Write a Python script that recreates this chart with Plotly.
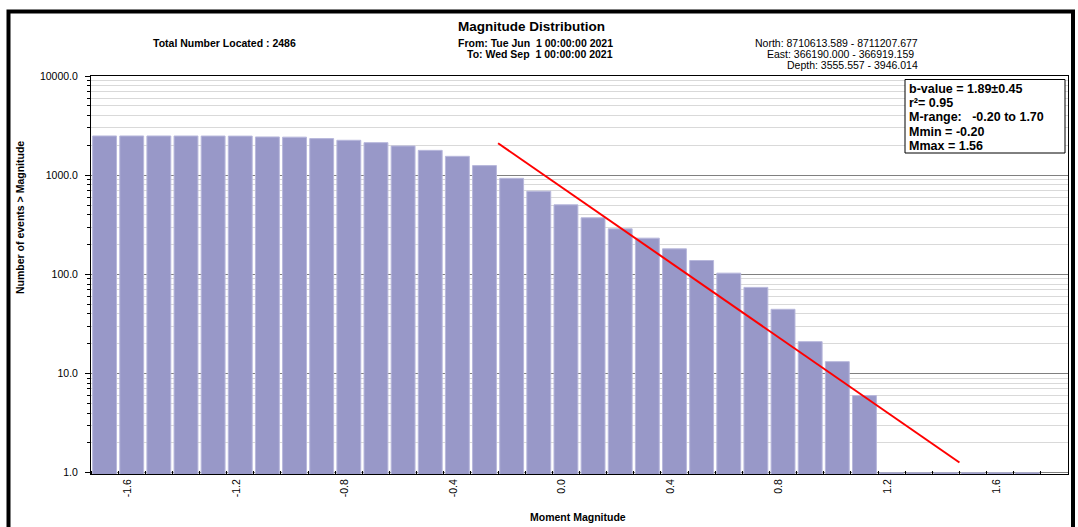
import plotly.graph_objects as go

# ---- data ----
magnitudes = [-1.7, -1.6, -1.5, -1.4, -1.3, -1.2, -1.1, -1.0, -0.9, -0.8, -0.7, -0.6,
              -0.5, -0.4, -0.3, -0.2, -0.1, 0.0, 0.1, 0.2, 0.3, 0.4, 0.5, 0.6, 0.7,
              0.8, 0.9, 1.0, 1.1, 1.2, 1.3, 1.4, 1.5, 1.6, 1.7]
cum_counts = [2486, 2486, 2485, 2484, 2482, 2478, 2430, 2420, 2340, 2250, 2130, 1970,
              1780, 1550, 1250, 930, 690, 503, 372, 288, 232, 181, 138, 103, 74,
              44.5, 21, 13.2, 6, 1, 1, 1, 1, 1, 1]
fit_m = [-0.25, 1.45]
fit_n = [2100, 1.27]
x_tick_vals = [-1.6, -1.2, -0.8, -0.4, 0.0, 0.4, 0.8, 1.2, 1.6]
x_tick_text = ["-1.6", "-1.2", "-0.8", "-0.4", "0.0", "0.4", "0.8", "1.2", "1.6"]
y_tick_vals = [1, 10, 100, 1000, 10000]
y_tick_text = ["1.0", "10.0", "100.0", "1000.0", "10000.0"]
stats_lines = ["b-value = 1.89\u00b10.45", "r\u00b2= 0.95", "M-range:  \u00a0-0.20 to 1.70",
               "Mmin = -0.20", "Mmax = 1.56"]

FONT = "Liberation Sans, Arial, sans-serif"
W, H = 1078, 527
L, R, T, B = 91, 10, 76, 53
PW, PH = W - L - R, H - T - B


def px(x):
    return (x - L) / PW


def py(y):
    return (H - B - y) / PH


fig = go.Figure()
fig.add_trace(go.Bar(x=magnitudes, y=cum_counts,
                     marker=dict(color="#9898c8", line=dict(color="#b8b8dc", width=1)),
                     hoverinfo="x+y"))
fig.add_trace(go.Scatter(x=fit_m, y=fit_n, mode="lines",
                         line=dict(color="#ff0000", width=2), hoverinfo="skip"))

annotations = []


def txt(text, x, y, size, bold=True, xanchor="center", angle=0):
    t = f"<b>{text}</b>" if bold else text
    annotations.append(dict(text=t, x=px(x), y=py(y), xref="paper", yref="paper",
                            xanchor=xanchor, yanchor="middle", showarrow=False,
                            textangle=angle, font=dict(family=FONT, size=size, color="black")))


txt("Magnitude Distribution", 531, 27, 13.5)
txt("Total Number Located : 2486", 224, 43, 10.5)
txt("From: Tue Jun \u00a01 00:00:00 2021", 615, 43, 10.5, xanchor="right")
txt("To: Wed Sep \u00a01 00:00:00 2021", 615, 54, 10.5, xanchor="right")
txt("North: 8710613.589 - 8711207.677", 920, 43, 10.5, bold=False, xanchor="right")
txt("East: 366190.000 - 366919.159", 916, 54, 10.5, bold=False, xanchor="right")
txt("Depth: 3555.557 - 3946.014", 920, 65, 10.5, bold=False, xanchor="right")
txt("Number of events > Magnitude", 20, 218, 10.5, angle=-90)
txt("Moment Magnitude", 578, 517, 10.5)
for i, s in enumerate(stats_lines):
    txt(s, 907, 89 + i * 14.2, 12.5, xanchor="left")

shapes = [
    dict(type="rect", xref="paper", yref="paper", x0=px(905), x1=px(1065), y0=py(153), y1=py(79.5),
         line=dict(color="black", width=1), fillcolor="white", layer="above"),
    dict(type="path", xref="paper", yref="paper",
         path=f"M {px(8.5)},{py(560)} L {px(8.5)},{py(11.5)} L {px(1073)},{py(11.5)} L {px(1073)},{py(560)}",
         line=dict(color="black", width=4)),
]

fig.update_layout(
    width=W, height=H,
    margin=dict(l=L, r=R, t=T, b=B),
    paper_bgcolor="white", plot_bgcolor="white",
    showlegend=False, bargap=0.12,
    annotations=annotations, shapes=shapes,
    xaxis=dict(range=[-1.75, 1.85], tickmode="array", tickvals=x_tick_vals, ticktext=x_tick_text,
               tickangle=-90, ticks="", showgrid=False, zeroline=False,
               showline=True, linecolor="black", linewidth=1, mirror=True,
               ticklabelshift=-4,
               tickfont=dict(family=FONT, size=10.5, color="black"),
               minor=dict(tick0=-1.75, dtick=0.1, ticks="inside", ticklen=3, tickcolor="black",
                          showgrid=False)),
    yaxis=dict(type="log", range=[-0.012, 4.0], tickmode="array", tickvals=y_tick_vals,
               ticktext=y_tick_text, ticks="outside", ticklen=5, tickcolor="black",
               showgrid=True, gridcolor="#808080", gridwidth=1, zeroline=False,
               showline=True, linecolor="black", linewidth=1, mirror=True,
               ticklabelstandoff=5,
               tickfont=dict(family=FONT, size=10.5, color="black"),
               minor=dict(dtick="D1", ticks="outside", ticklen=3, tickcolor="black",
                          showgrid=True, gridcolor="#d9d9d9", gridwidth=1)),
)

fig.write_html("out.html")
